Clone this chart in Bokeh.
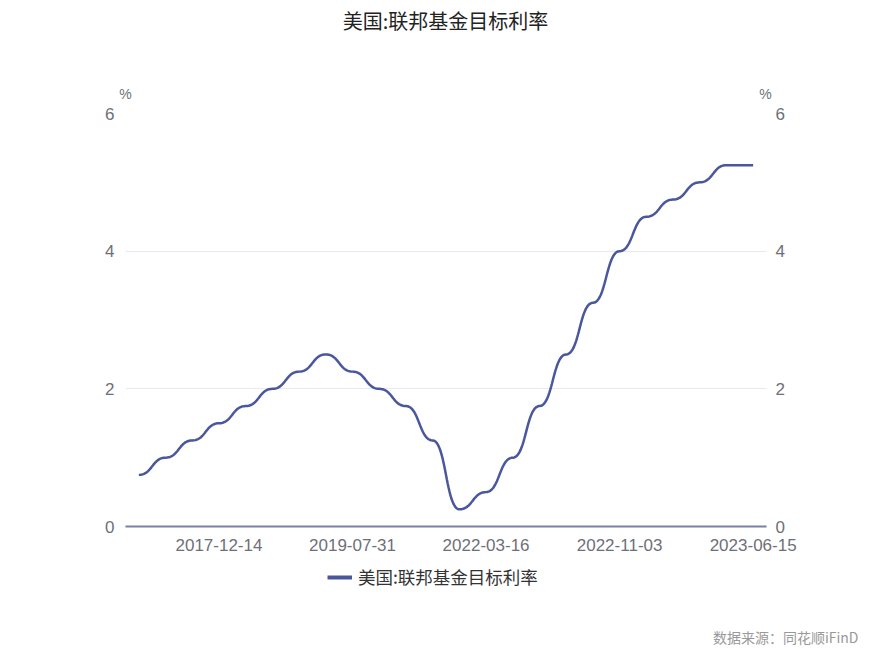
import numpy as np
from bokeh.plotting import figure
from bokeh.models import (LinearAxis, FixedTicker, Label, Legend, LegendItem,
                          Range1d, ColumnDataSource)
from bokeh.embed import file_html
from bokeh.resources import INLINE

# ---- data -------------------------------------------------------------
dates = ["2016-12-15", "2017-03-16", "2017-06-15", "2017-12-14", "2018-03-22",
         "2018-06-14", "2018-09-27", "2018-12-20", "2019-07-31", "2019-09-19",
         "2019-10-31", "2020-03-04", "2020-03-16", "2022-03-16", "2022-05-05",
         "2022-06-16", "2022-07-28", "2022-09-22", "2022-11-03", "2022-12-15",
         "2023-02-02", "2023-03-23", "2023-05-04", "2023-06-15"]
rate = [0.75, 1.00, 1.25, 1.50, 1.75, 2.00, 2.25, 2.50, 2.25, 2.00, 1.75, 1.25,
        0.25, 0.50, 1.00, 1.75, 2.50, 3.25, 4.00, 4.50, 4.75, 5.00, 5.25, 5.25]
label_idx = [3, 8, 13, 18, 23]
y_ticks = [0, 2, 4, 6]
series_name = "美国:联邦基金目标利率"
title_text = "美国:联邦基金目标利率"
unit_text = "%"
source_text = "数据来源：同花顺iFinD"

# ---- smooth curve (horizontal tangents at each point) -----------------
SMOOTH = 0.5
xs, ys = [], []
n = len(rate)
for i in range(n - 1):
    y0, y1 = rate[i], rate[i + 1]
    t = np.linspace(0, 1, 25) if i == 0 else np.linspace(0, 1, 25)[1:]
    bx = 3 * (1 - t) ** 2 * t * SMOOTH + 3 * (1 - t) * t ** 2 * (1 - SMOOTH) + t ** 3
    by = (1 - t) ** 3 * y0 + 3 * (1 - t) ** 2 * t * y0 + 3 * (1 - t) * t ** 2 * y1 + t ** 3 * y1
    xs.extend(list(i + bx))
    ys.extend(list(by))
src = ColumnDataSource(dict(x=xs, y=ys))

CJK = "Noto Sans CJK SC"
NUM = "Liberation Sans"
LINE_C = "#4b579c"
TICK_C = "#6e7079"

W = 885
HH, HM, HF = 100, 461, 87      # header / main / footer heights
FL, FR, FT, FB = 125, 766, 113, 526   # frame edges on the page


def blank(h):
    f = figure(width=W, height=h, output_backend="svg", toolbar_location=None,
               x_range=Range1d(0, W), y_range=Range1d(0, h), min_border=0,
               x_axis_location=None, y_axis_location=None,
               outline_line_color=None, background_fill_color="white",
               border_fill_color="white")
    f.grid.visible = False
    return f


# ---- header: title and unit labels ------------------------------------
head = blank(HH)
head.add_layout(Label(x=445, y=HH - 20, text=title_text, text_align="center",
                      text_baseline="middle", text_font=CJK,
                      text_font_size="20px", text_color="#222222"))
for ux in (FL, FR - 1):
    head.add_layout(Label(x=ux, y=HH - 93, text=unit_text, text_align="center",
                          text_baseline="middle", text_font=NUM,
                          text_font_size="14px", text_color=TICK_C))

# ---- main chart --------------------------------------------------------
p = figure(width=W, height=HM, output_backend="svg", toolbar_location=None,
           x_range=Range1d(-0.5, n - 0.5), y_range=Range1d(0, 6),
           min_border_left=FL, min_border_right=W - FR,
           min_border_top=FT - HH, min_border_bottom=HH + HM - FB,
           outline_line_color=None, background_fill_color="white",
           border_fill_color="white", y_axis_location=None)

p.line("x", "y", source=src, line_color=LINE_C, line_width=2.5)

xa = p.xaxis[0]
xa.ticker = FixedTicker(ticks=label_idx)
xa.major_label_overrides = {i: dates[i] for i in label_idx}
xa.axis_line_color = "#7d7ea6"
xa.axis_line_width = 2
xa.major_tick_line_color = None
xa.minor_tick_line_color = None
xa.major_label_standoff = 6
xa.major_label_text_font = NUM
xa.major_label_text_font_size = "17px"
xa.major_label_text_color = TICK_C

for side in ("left", "right"):
    ax = LinearAxis(ticker=FixedTicker(ticks=y_ticks))
    ax.axis_line_color = None
    ax.major_tick_line_color = None
    ax.minor_tick_line_color = None
    ax.major_label_standoff = 5 if side == "left" else 3
    ax.major_label_text_font = NUM
    ax.major_label_text_font_size = "17px"
    ax.major_label_text_color = TICK_C
    p.add_layout(ax, side)

p.xgrid.grid_line_color = None
p.ygrid.ticker = FixedTicker(ticks=y_ticks)
p.ygrid.grid_line_color = "#e8e8f3"
p.ygrid.grid_line_width = 1

# ---- footer: legend and source ----------------------------------------
foot = blank(HF)
proxy = foot.line(x=[float("nan")], y=[float("nan")], line_color=LINE_C,
                  line_width=4)
legend = Legend(items=[LegendItem(label=series_name, renderers=[proxy])],
                location=(327, HF - 28), orientation="horizontal",
                padding=0, margin=0, spacing=0,
                glyph_width=25, glyph_height=20, label_height=20,
                label_standoff=6, border_line_color=None,
                background_fill_alpha=0,
                label_text_font=CJK, label_text_font_size="17.5px",
                label_text_color="#333333")
foot.add_layout(legend, "center")
foot.add_layout(Label(x=858, y=HF - 75, text=source_text, text_align="right",
                      text_baseline="middle", text_font=CJK,
                      text_font_size="14px", text_color="#999999"))

# three independent roots stacked on the page (no frame alignment)
open("out.html", "w").write(file_html([head, p, foot], INLINE))
